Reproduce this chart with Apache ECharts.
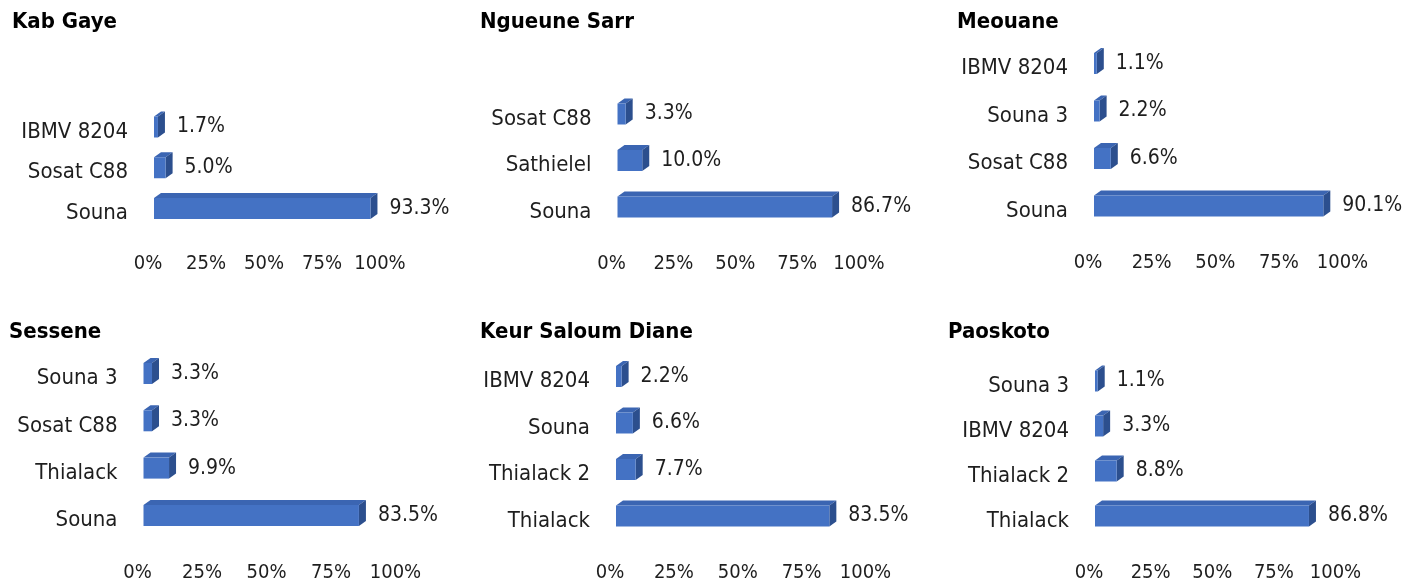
<!DOCTYPE html>
<html>
<head>
<meta charset="utf-8">
<title>Variétés par localité</title>
<script src="https://cdn.jsdelivr.net/npm/echarts@6/dist/echarts.min.js"></script>
<style>
	html, body {margin:0; padding:0; background:#fff;}
	#bar-chart {width:1414px; height:586px;}
</style>
</head>
<body>
<div id="bar-chart"></div>
<script>
// données (%)
var titles = ['Kab Gaye', 'Ngueune Sarr', 'Meouane', 'Sessene', 'Keur Saloum Diane', 'Paoskoto'];

var catsKabGaye = ['IBMV 8204', 'Sosat C88', 'Souna'];
var valsKabGaye = [1.7, 5.0, 93.3];

var catsNgueuneSarr = ['Sosat C88', 'Sathielel', 'Souna'];
var valsNgueuneSarr = [3.3, 10.0, 86.7];

var catsMeouane = ['IBMV 8204', 'Souna 3', 'Sosat C88', 'Souna'];
var valsMeouane = [1.1, 2.2, 6.6, 90.1];

var catsSessene = ['Souna 3', 'Sosat C88', 'Thialack', 'Souna'];
var valsSessene = [3.3, 3.3, 9.9, 83.5];

var catsKeurSaloum = ['IBMV 8204', 'Souna', 'Thialack 2', 'Thialack'];
var valsKeurSaloum = [2.2, 6.6, 7.7, 83.5];

var catsPaoskoto = ['Souna 3', 'IBMV 8204', 'Thialack 2', 'Thialack'];
var valsPaoskoto = [1.1, 3.3, 8.8, 86.8];

var tickMin = 0, tickMax = 100, tickStep = 25;

var allCats = [catsKabGaye, catsNgueuneSarr, catsMeouane, catsSessene, catsKeurSaloum, catsPaoskoto];
var allVals = [valsKabGaye, valsNgueuneSarr, valsMeouane, valsSessene, valsKeurSaloum, valsPaoskoto];

// position de chaque petit graphique (px)
var layout = [
	{x0:148,   x100:380,    first:132,   step:40.75, axisY:265,   tx:12,  ty:12},
	{x0:611.5, x100:859,    first:119,   step:46.5,  axisY:265,   tx:480, ty:12},
	{x0:1088,  x100:1342.5, first:68.5,  step:47.5,  axisY:264,   tx:957, ty:12},
	{x0:137.5, x100:395.5,  first:378.5, step:47.3,  axisY:573.5, tx:9,   ty:322},
	{x0:610,   x100:865.5,  first:381.5, step:46.5,  axisY:574,   tx:480, ty:322},
	{x0:1089,  x100:1335.5, first:386,   step:45,    axisY:574,   tx:948, ty:322}
];

var FONT = 'DejaVu Sans Condensed';
var TXT = '#1e1e1e';

window.onload = function(){
	barChart();
};

// barre "3D" façon Excel : face, dessus et côté
function renderBar(params, api){
	var v = api.value(0), c = api.value(1);
	var p0 = api.coord([0, c]);
	var p1 = api.coord([v, c]);
	var h = 21, dx = 7, dy = 5, shift = 6;
	var x0 = p0[0] + shift, x1 = p1[0] + shift;
	var yc = p0[1] - 5;
	var y0 = yc - h / 2, y1 = yc + h / 2;
	return {
		type: 'group',
		children: [
			{type:'polygon', shape:{points:[[x0,y0],[x0+dx,y0-dy],[x1+dx,y0-dy],[x1,y0]]}, style:{fill:'#3b65b2'}},
			{type:'polygon', shape:{points:[[x1,y0],[x1+dx,y0-dy],[x1+dx,y1-dy],[x1,y1]]}, style:{fill:'#2c4f8e'}},
			{type:'rect', shape:{x:x0, y:y0, width:Math.max(x1-x0, 0.5), height:h}, style:{fill:'#4472c4'}},
			{type:'text', style:{x:x1+dx+12, y:yc, text:v.toFixed(1)+'%', fill:TXT,
				font:'21px "' + FONT + '"', verticalAlign:'middle', align:'left'}}
		]
	};
}

function barChart(){
	var chart = echarts.init(document.getElementById('bar-chart'));
	var title = [], grid = [], xAxis = [], yAxis = [], series = [];

	for (var i = 0; i < 6; i++) {
		var L = layout[i];
		var n = allCats[i].length;
		var top = L.first - L.step / 2;
		var height = n * L.step;
		title.push({
			text: titles[i], left: L.tx, top: L.ty - 1, padding: 0,
			textStyle: {fontFamily: FONT, fontSize: 22, fontWeight: 'bold', color: '#000'}
		});
		grid.push({left: L.x0, top: top, width: L.x100 - L.x0, height: height});
		xAxis.push({
			gridIndex: i, type: 'value', min: tickMin, max: tickMax, interval: tickStep,
			axisLine: {show: false}, axisTick: {show: false}, splitLine: {show: false},
			axisLabel: {formatter: '{value}%', margin: L.axisY - (top + height) - 11,
				fontFamily: FONT, fontSize: 20, color: TXT}
		});
		yAxis.push({
			gridIndex: i, type: 'category', inverse: true, data: allCats[i],
			axisLine: {show: false}, axisTick: {show: false},
			axisLabel: {margin: 20, fontFamily: FONT, fontSize: 22, color: TXT}
		});
		var data = [];
		for (var j = 0; j < n; j++) {
			data.push([allVals[i][j], j]);
		}
		series.push({
			type: 'custom', xAxisIndex: i, yAxisIndex: i,
			renderItem: renderBar, clip: false,
			encode: {x: 0, y: 1}, data: data
		});
	}

	var option = {
		animation: false,
		title: title,
		grid: grid,
		xAxis: xAxis,
		yAxis: yAxis,
		series: series
	};
	chart.setOption(option);
}
</script>
</body>
</html>
